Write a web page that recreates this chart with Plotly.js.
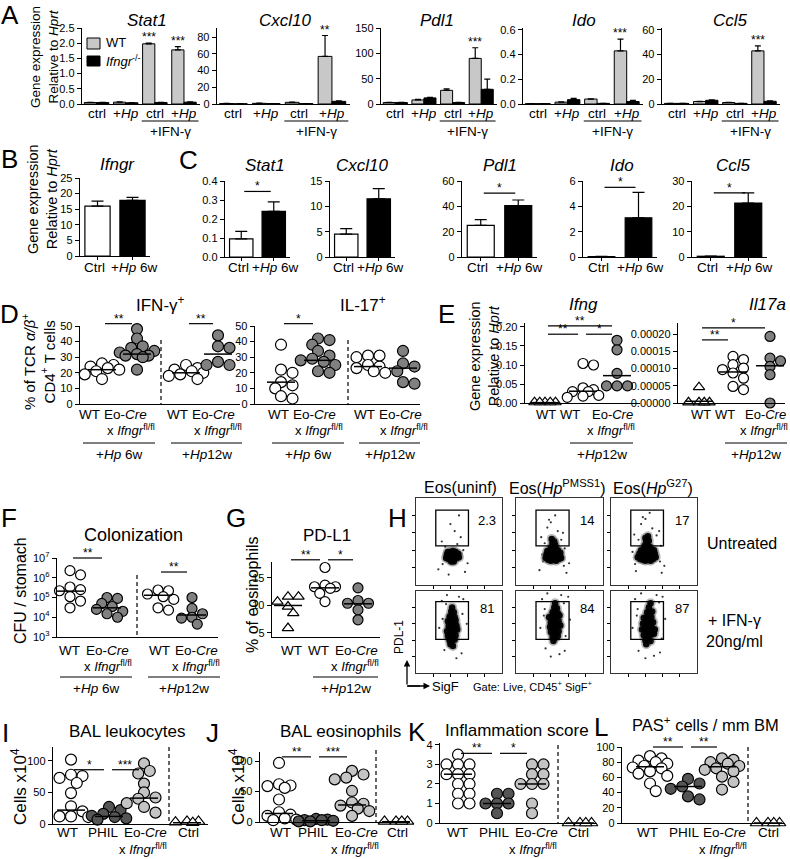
<!DOCTYPE html>
<html><head><meta charset="utf-8">
<script src="https://cdn.plot.ly/plotly-3.0.1.min.js"></script>
<style>html,body{margin:0;padding:0;background:#fff}#chart{width:790px;height:859px}</style>
</head><body><div id="chart"></div>
<script>
// ================= DATA =================
// Panel A (in vitro eosinophils, WT vs Ifngr-/-)
const aGenes = ['Stat1', 'Cxcl10', 'Pdl1', 'Ido', 'Ccl5'];
const aCats = ['ctrl', '+<i>Hp</i>', 'ctrl', '+<i>Hp</i>'];
const aStat1WT = [0.05, 0.06, 1.98, 1.78], aStat1WTErr = [0.005, 0.01, 0.02, 0.11];
const aStat1KO = [0.05, 0.04, 0.05, 0.06], aStat1KOErr = [0.005, 0.005, 0.005, 0.01];
const aStat1Stars = ['', '', '***', '***'];
const aCxcl10WT = [0.6, 0.8, 2.0, 57], aCxcl10WTErr = [0.2, 0.2, 0.3, 25];
const aCxcl10KO = [0.3, 0.5, 0.5, 3.2], aCxcl10KOErr = [0.1, 0.1, 0.1, 0.5];
const aCxcl10Stars = ['', '', '', '**'];
const aPdl1WT = [3, 8, 27, 90], aPdl1WTErr = [0.5, 1, 3, 21];
const aPdl1KO = [3, 12, 3, 29], aPdl1KOErr = [0.5, 1, 0.5, 20];
const aPdl1Stars = ['', '', '', '***'];
const aIdoWT = [0.003, 0.015, 0.04, 0.43], aIdoWTErr = [0.001, 0.002, 0.002, 0.095];
const aIdoKO = [0.003, 0.035, 0.005, 0.02], aIdoKOErr = [0.001, 0.01, 0.001, 0.01];
const aIdoStars = ['', '', '', '***'];
const aCcl5WT = [0.5, 2, 1.2, 43], aCcl5WTErr = [0.1, 0.2, 0.2, 4];
const aCcl5KO = [0.5, 3, 0.5, 2.2], aCcl5KOErr = [0.1, 0.3, 0.1, 0.3];
const aCcl5Stars = ['', '', '', '***'];

// Panel B / C (Ctrl vs +Hp 6w)
const bcCats = ['Ctrl', '+<i>Hp</i> 6w'];
const bIfngr = [16, 17.8], bIfngrErr = [1.6, 1.0];
const cGenes = ['Stat1', 'Cxcl10', 'Pdl1', 'Ido', 'Ccl5'];
const cStat1 = [0.095, 0.24], cStat1Err = [0.04, 0.05];
const cCxcl10 = [4.5, 11.5], cCxcl10Err = [1.1, 2.0];
const cPdl1 = [25, 40.5], cPdl1Err = [4.5, 4.5];
const cIdo = [0.03, 3.1], cIdoErr = [0.02, 2.0];
const cCcl5 = [0.3, 21.3], cCcl5Err = [0.1, 4.0];
const cSigY = [0.345, null, 50.5, 5.5, 25.3];

// Panel D (% of TCRab+ CD4+ T cells)
const dIfnWT6w = [26, 25, 24, 23, 22, 21, 19, 16];
const dIfnEo6w = [48, 42, 37, 36, 34, 33, 32, 31, 31, 30, 22];
const dIfnWT12w = [25, 23, 22, 21, 20, 19, 18, 16];
const dIfnEo12w = [44, 37, 36, 27, 25, 25];
const dIfnMeans = [22, 32, 20, 32];
const dIfnSig = [[0, 1, 51.5, '**'], [2, 3, 51.5, '**']];
const dIl17WT6w = [38, 22, 20, 14, 12, 10, 5, 3.5];
const dIl17Eo6w = [42, 41, 38, 34, 31, 29, 28, 27, 25, 21, 20];
const dIl17WT12w = [31, 31, 30, 25, 24, 23, 21, 20];
const dIl17Eo12w = [34, 26, 24, 21, 14, 13];
const dIl17Means = [14, 28, 24, 23];
const dIl17Sig = [[0, 1, 51.5, '*']];

// Panel E (gene expression relative to Hprt)
const eIfngWT = [0.002, 0.002, 0.002, 0.002, 0.002];
const eIfngWT12w = [0.104, 0.100, 0.040, 0.035, 0.030, 0.030, 0.020, 0.018, 0.015];
const eIfngEo12w = [0.165, 0.140, 0.078, 0.045, 0.045, 0.045];
const eIfngMeans = [0.001, 0.031, 0.072];
const eIfngSig = [[0, 1, 0.181, '**'], [1, 2, 0.181, '*'], [0, 2, 0.203, '**']];
const eIl17aWT = [0.000046, 0.000002, 0.000002, 0.000002, 0.000002];
const eIl17aWT12w = [0.000135, 0.000126, 0.000111, 0.000101, 0.000097, 0.000087, 0.000072, 0.000048, 0.000039];
const eIl17aEo12w = [0.000193, 0.000130, 0.000122, 0.000106, 0.000082, 0.0];
const eIl17aMeans = [0.000005, 0.000090, 0.000108];
const eIl17aSig = [[0, 1, 0.000183, '**'], [0, 2, 0.000218, '*']];

// Panel F (CFU / stomach)
const fWT6w = [2.3e6, 1.4e6, 3.4e5, 2.5e5, 2.2e5, 1.1e5, 6.6e4, 3e4];
const fEo6w = [1e5, 9e4, 5e4, 3.5e4, 2.5e4, 2e4, 1.5e4, 1e4];
const fWT12w = [2.4e5, 2.2e5, 1.5e5, 1.1e5, 8e4, 3e4, 2.3e4];
const fEo12w = [1e5, 2.8e4, 1.5e4, 1e4, 9e3, 4.5e3];
const fMedians = [2.1e5, 3e4, 1.3e5, 1.3e4];
const fSig = [[0, 1, 1e7, '**'], [2, 3, 1.95e6, '**']];

// Panel G (PD-L1, % of eosinophils)
const gWT = [11.6, 11.6, 10.7, 9.8, 8.6, 5.9];
const gWT12w = [16.9, 13.7, 13.4, 13.4, 13.1, 12.2, 10.7];
const gEo12w = [13.2, 10.9, 10.4, 10.4, 9.2, 7.4];
const gMeans = [10, 13.2, 10.3];
const gSig = [[0, 1, 18.3, '**'], [1, 2, 18.3, '*']];

// Panel H (flow cytometry, PDL-1 vs SigF)
const hCols = ['Eos(uninf)', 'Eos(<i>Hp</i><sup>PMSS1</sup>)', 'Eos(<i>Hp</i><sup>G27</sup>)'];
const hRows = ['Untreated', '+ IFN-γ<br>20ng/ml'];
const hPct = ['2.3', '14', '17', '81', '84', '87'];
const hGateUntreated = [23, 61, 45, 86];
const hGateIfng = [23, 61, 41, 87];
const hUntUninfX = [35,38,41,44,47,50,36,39,42,45,48,37,40,43,46,49,41,44];
const hUntUninfY = [31,30,29,30,31,32,35,34,34,35,34,38,38,39,38,36,27,27];
const hUntUninfSX = [30,55,26,52,45,60,34,57,48,40,38,50,31,53];
const hUntUninfSY = [50,40,18,55,62,25,44,15,47,70,12,80,24,36];
const hUntPmssX = [34,37,40,43,46,49,52,35,38,41,44,47,50,36,39,42,45,48,51,40,43,46,42,44,41,45];
const hUntPmssY = [31,29,28,29,28,30,31,35,34,33,34,35,34,39,38,39,38,40,37,43,44,42,48,50,53,46];
const hUntPmssSX = [29,56,27,54,36,61,33,58,48,40,52,45,38,30,55,31];
const hUntPmssSY = [55,42,17,60,66,25,48,14,62,72,52,80,75,35,22,27];
const hUntG27X = [31,34,37,40,43,46,49,52,33,36,39,42,45,48,51,35,38,41,44,47,50,39,42,45,41,44,43,40];
const hUntG27Y = [32,30,29,28,29,28,30,32,36,35,34,35,34,35,36,40,41,40,39,41,40,45,46,44,50,51,56,54];
const hUntG27SX = [27,58,29,56,35,62,32,59,48,40,53,45,37,25,57,28];
const hUntG27SY = [58,45,16,62,70,22,52,14,65,76,57,83,78,38,27,24];
const hIfnUninfX = [39,42,45,37,40,43,46,36,39,42,45,48,38,41,44,47,37,40,43,46,39,42,45,41,44,42,40,43];
const hIfnUninfY = [40,39,41,45,46,44,46,51,52,50,52,53,57,58,56,58,63,64,62,64,69,70,68,75,74,80,35,33];
const hIfnUninfSX = [30,55,33,53,27,59,36,50,47,35,54,31];
const hIfnUninfSY = [88,90,28,24,55,60,95,93,18,84,72,66];
const hIfnPmssX = [42,45,48,40,43,46,49,39,42,45,48,51,40,43,46,49,38,41,44,47,50,42,45,48,44,47,45,43];
const hIfnPmssY = [44,43,45,50,51,49,51,56,57,55,57,58,62,63,61,63,68,69,67,69,70,74,75,73,80,79,85,39];
const hIfnPmssSX = [30,60,34,56,28,62,36,52,40,50,33,57,55,32];
const hIfnPmssSY = [90,93,30,27,55,65,97,95,20,23,78,45,85,70];
const hIfnG27X = [40,43,46,38,41,44,47,50,36,39,42,45,48,51,37,40,43,46,49,38,41,44,47,42,45,48,44,41,46];
const hIfnG27Y = [40,41,39,46,47,45,47,48,53,54,52,54,55,53,60,61,59,61,62,67,68,66,68,74,73,75,80,35,85];
const hIfnG27SX = [28,60,32,57,25,63,35,53,40,50,31,59,56,30];
const hIfnG27SY = [90,93,27,25,55,66,97,95,18,21,78,42,86,70];

// Panels I-L (WT, PHIL, Eo-Cre x Ifngr fl/fl, Ctrl)
const iWT = [102, 78, 76, 73, 65, 49, 28, 20, 12, 12, 11];
const iPHIL = [27, 22, 16, 13, 11, 9, 7];
const iEo = [96, 84, 80, 64, 50, 42, 40, 33, 27, 18];
const iCtrl = [4, 4, 3, 2];
const iMedians = [22, 12, 41, 2];
const iSig = [[0, 1, 86, '*'], [1, 2, 86, '***']];
const jWT = [97, 62, 60, 59, 56, 37, 16, 12, 10, 6, 4, 3];
const jPHIL = [5, 4, 3, 3, 2, 1, 1];
const jEo = [84, 78, 73, 70, 51, 32, 30, 27, 22, 18, 10];
const jCtrl = [1, 1, 1, 1];
const jMedians = [14, 2, 28, 0.5];
const jSig = [[0, 1, 107, '**'], [1, 2, 107, '***']];
const kWT = [3.5, 3, 3, 3, 2.5, 2.5, 2.5, 2, 2, 1.5, 1.5, 1, 1];
const kPHIL = [1.5, 1.5, 1, 1, 1, 0.5];
const kEo = [3, 3, 2.5, 2.5, 2, 2, 2, 1, 0.5];
const kCtrl = [0, 0, 0, 0];
const kMedians = [2.5, 1, 2, 0];
const kSig = [[0, 1, 3.57, '**'], [1, 2, 3.57, '*']];
const lWT = [88, 85, 82, 80, 78, 75, 73, 72, 68, 65, 62, 52, 42];
const lPHIL = [58, 52, 48, 45, 35, 31];
const lEo = [85, 83, 80, 78, 75, 72, 70, 68, 61, 54, 44];
const lCtrl = [0, 0, 0, 0];
const lMedians = [74, 48, 74, 0];
const lSig = [[0, 1, 100, '**'], [1, 2, 100, '**']];

// ================= HELPERS =================
const W = 790, H = 859;
const FONT = '"Liberation Sans", Arial, Helvetica, sans-serif';
const CAT = 13.5;
const traces = [], shapes = [], annotations = [];
const layout = {
  width: W, height: H, margin: {l: 0, r: 0, t: 0, b: 0},
  paper_bgcolor: '#fff', plot_bgcolor: 'rgba(0,0,0,0)', showlegend: false,
  barmode: 'group', bargap: 0.16, bargroupgap: 0,
  font: {family: FONT, color: '#000', size: 12}
};
let nAx = 0;
function panel(box, yspec, xspec) {
  nAx++;
  const n = nAx, xk = n === 1 ? 'xaxis' : 'xaxis' + n, yk = n === 1 ? 'yaxis' : 'yaxis' + n;
  const xid = 'x' + (n === 1 ? '' : n), yid = 'y' + (n === 1 ? '' : n);
  const [L, R, T, B] = box;
  const base = {showgrid: false, zeroline: false, showline: true, linecolor: '#000', linewidth: 1.3,
    ticks: 'outside', ticklen: 4, tickwidth: 1, tickcolor: '#000',
    tickfont: {size: 11, family: FONT, color: '#000'}, fixedrange: true};
  layout[xk] = Object.assign({}, base, {domain: [L / W, R / W], anchor: yid}, xspec);
  layout[yk] = Object.assign({}, base, {domain: [1 - B / H, 1 - T / H], anchor: xid}, yspec);
  const yr = layout[yk].range, ylog = layout[yk].type === 'log';
  const xr = layout[xk].range;
  return {
    xid, yid, L, R, T, B,
    mapY: v => { const t = ylog ? Math.log10(v) : v; return B - (t - yr[0]) / (yr[1] - yr[0]) * (B - T); },
    mapX: v => L + (v - xr[0]) / (xr[1] - xr[0]) * (R - L)
  };
}
function txt(s, x, y, o) {
  o = o || {};
  const f = Object.assign({family: FONT, size: 15, color: '#000'}, o.font || {});
  const a = Object.assign({text: s, x: x / W, y: 1 - y / H, xref: 'paper', yref: 'paper', showarrow: false,
    xanchor: 'center', yanchor: 'middle'}, o);
  a.font = f;
  annotations.push(a);
}
function line(x0, y0, x1, y1, o) {
  shapes.push(Object.assign({type: 'line', xref: 'paper', yref: 'paper', x0: x0 / W, y0: 1 - y0 / H,
    x1: x1 / W, y1: 1 - y1 / H, line: {color: '#000', width: 1.2}}, o || {}));
}
function rect(x0, y0, x1, y1, fill) {
  shapes.push({type: 'rect', xref: 'paper', yref: 'paper', x0: x0 / W, y0: 1 - y1 / H, x1: x1 / W, y1: 1 - y0 / H,
    fillcolor: fill, line: {color: '#000', width: 1}});
}
function star(label, x, y) { txt(label, x, y + 4, {yanchor: 'bottom', font: {size: 12}}); }
function errUp(arr, w) {
  return {type: 'data', symmetric: false, array: arr, arrayminus: arr.map(() => 0), color: '#000', thickness: 1.2, width: w};
}
function letter(s, x, y) { txt(s, x, y, {font: {size: 26}}); }
function ytitle(s, x, y, size) { txt(s, x, y, {textangle: -90, font: {size: size || 15}}); }
// simple beeswarm: horizontal offsets (px) so that markers overlap only partly
function swarm(vals, mapY, d) {
  const items = vals.map(v => ({v, py: mapY(v)})).sort((a, b) => a.py - b.py);
  const placed = [];
  const step = d * 0.5, thr = d * 0.72, maxK = 6;
  for (const it of items) {
    let best = 0, bestScore = -1;
    for (let k = 0; k <= maxK; k++) {
      const c = k === 0 ? 0 : (k % 2 === 1 ? 1 : -1) * Math.ceil(k / 2) * step;
      const md = placed.length ? Math.min(...placed.map(q => Math.hypot(q.dx - c, q.py - it.py))) : Infinity;
      if (md >= thr) { best = c; bestScore = md; break; }
      if (md > bestScore) { bestScore = md; best = c; }
    }
    placed.push({v: it.v, py: it.py, dx: best});
  }
  return placed;
}
function dotPanel(spec, groups, means, sigs) {
  const p = panel([spec.L, spec.R, spec.T, spec.B], Object.assign({}, spec.y),
    {range: [spec.L, spec.R], ticks: '', showticklabels: false});
  groups.forEach((g, i) => {
    const gx = spec.gx[i];
    const sw = swarm(g.vals, p.mapY, spec.d || 11.5);
    traces.push({type: 'scatter', mode: 'markers', x: sw.map(s => gx + s.dx), y: sw.map(s => s.v),
      xaxis: p.xid, yaxis: p.yid, cliponaxis: false, hoverinfo: 'skip',
      marker: {symbol: g.sym || 'circle', size: spec.ms || 11, color: g.fill, line: {color: '#000', width: 1.2}}});
  });
  means.forEach((m, i) => {
    const gx = spec.gx[i];
    traces.push({type: 'scatter', mode: 'lines', x: [gx - 14, gx + 14], y: [m, m], xaxis: p.xid, yaxis: p.yid,
      cliponaxis: false, hoverinfo: 'skip', line: {color: '#000', width: 1.5}});
  });
  (sigs || []).forEach(s => {
    const y = p.mapY(s[2]);
    const x0 = spec.gx[s[0]] + 3, x1 = spec.gx[s[1]] - 5;
    line(x0, y, x1, y);
    star(s[3], (x0 + x1) / 2, y);
  });
  if (spec.dash) line(spec.dash[0], spec.dash[1], spec.dash[0], spec.B, {line: {color: '#000', width: 1.2, dash: '4px,3px'}});
  return p;
}

// ================= PANEL A =================
const aData = [
  [aStat1WT, aStat1WTErr, aStat1KO, aStat1KOErr, aStat1Stars],
  [aCxcl10WT, aCxcl10WTErr, aCxcl10KO, aCxcl10KOErr, aCxcl10Stars],
  [aPdl1WT, aPdl1WTErr, aPdl1KO, aPdl1KOErr, aPdl1Stars],
  [aIdoWT, aIdoWTErr, aIdoKO, aIdoKOErr, aIdoStars],
  [aCcl5WT, aCcl5WTErr, aCcl5KO, aCcl5KOErr, aCcl5Stars]
];
const aSpec = [
  {box: [82, 200], y: {range: [0, 2.5], tickvals: [0, 0.5, 1, 1.5, 2, 2.5], tickformat: '.1f'}, tx: 147},
  {box: [217, 350], y: {range: [0, 91], tickvals: [0, 20, 40, 60, 80]}, tx: 285},
  {box: [381, 497], y: {range: [0, 150], tickvals: [0, 50, 100, 150]}, tx: 437},
  {box: [523, 643], y: {range: [0, 0.615], tickvals: [0, 0.2, 0.4, 0.6], tickformat: '.1f'}, tx: 584},
  {box: [662, 780], y: {range: [0, 61.5], tickvals: [0, 20, 40, 60]}, tx: 730}
];
aSpec.forEach((s, k) => {
  const [wt, wtE, ko, koE, stars] = aData[k];
  const p = panel([s.box[0], s.box[1], 28, 104], s.y,
    {range: [-0.5, 3.55], tickvals: [0, 1, 2, 3], ticks: '', showticklabels: false});
  traces.push({type: 'bar', x: [0, 1, 2, 3], y: wt, xaxis: p.xid, yaxis: p.yid, hoverinfo: 'skip',
    marker: {color: '#c8c8c8', line: {color: '#000', width: 1}}, error_y: errUp(wtE, 3)});
  traces.push({type: 'bar', x: [0, 1, 2, 3], y: ko, xaxis: p.xid, yaxis: p.yid, hoverinfo: 'skip',
    marker: {color: '#000', line: {color: '#000', width: 1}}, error_y: errUp(koE, 3)});
  txt('<i>' + aGenes[k] + '</i>', s.tx, 21, {font: {size: 17}});
  aCats.forEach((c, i) => txt(c, p.mapX(i), 113, {font: {size: CAT}}));
  stars.forEach((st, i) => { if (st) star(st, p.mapX(i - 0.21), p.mapY(wt[i] + wtE[i]) - 1); });
  const u0 = p.mapX(1.55), u1 = p.mapX(3.5);
  line(u0, 121, u1, 121);
  txt('+IFN-γ', (u0 + u1) / 2, 131, {font: {size: CAT}});
});
letter('A', 10, 15);
ytitle('Gene expression<br>Relative to <i>Hprt</i>', 44, 57, 13.5);
rect(87, 38, 100, 49, '#c8c8c8');
rect(87, 56, 100, 66, '#000');
txt('WT', 104, 43, {xanchor: 'left', font: {size: 13}});
txt('<i>Ifngr</i><sup>-/-</sup>', 104, 61, {xanchor: 'left', font: {size: 13}});

// ================= PANEL B & C =================
function bcPanel(box, T, B, yspec, vals, errs) {
  const p = panel([box[0], box[1], T, B], yspec,
    {range: [-0.5, 1.5], tickvals: [0, 1], ticklen: 3, showticklabels: false});
  traces.push({type: 'bar', x: [0, 1], y: vals, width: 0.72, xaxis: p.xid, yaxis: p.yid, hoverinfo: 'skip',
    marker: {color: ['#fff', '#000'], line: {color: '#000', width: 1.2}}, error_y: errUp(errs, 6)});
  txt(bcCats[0], p.mapX(0) - 3, 268, {font: {size: CAT}});
  txt(bcCats[1], p.mapX(1) + 1, 268, {font: {size: CAT}});
  return p;
}
bcPanel([80, 150], 178, 256, {range: [0, 25], tickvals: [0, 5, 10, 15, 20, 25]}, bIfngr, bIfngrErr);
txt('<i>Ifngr</i>', 117, 165, {font: {size: 17}});
letter('B', 9, 159);
ytitle('Gene expression<br>Relative to <i>Hprt</i>', 42, 199, 14.5);
letter('C', 188, 160);
const cSpec = [
  {box: [225, 290], y: {range: [0, 0.4], tickvals: [0, 0.1, 0.2, 0.3, 0.4], tickformat: '.1f'}, tx: 265},
  {box: [330, 395], y: {range: [0, 15], tickvals: [0, 5, 10, 15]}, tx: 362},
  {box: [462, 537], y: {range: [0, 60], tickvals: [0, 20, 40, 60]}, tx: 500},
  {box: [583, 657], y: {range: [0, 6], tickvals: [0, 2, 4, 6]}, tx: 622},
  {box: [692, 767], y: {range: [0, 30], tickvals: [0, 10, 20, 30]}, tx: 733}
];
const cData = [[cStat1, cStat1Err], [cCxcl10, cCxcl10Err], [cPdl1, cPdl1Err], [cIdo, cIdoErr], [cCcl5, cCcl5Err]];
cSpec.forEach((s, k) => {
  const p = bcPanel(s.box, 181, 257, s.y, cData[k][0], cData[k][1]);
  txt('<i>' + cGenes[k] + '</i>', s.tx, 166, {font: {size: 17}});
  if (cSigY[k] != null) {
    const y = p.mapY(cSigY[k]), x0 = p.mapX(0) + 3, x1 = p.mapX(1) - 3;
    line(x0, y, x1, y);
    star('*', (x0 + x1) / 2, y);
  }
});

// ================= PANEL D =================
const OPEN = '#ffffff', GREY = '#808080';
letter('D', 9, 314);
ytitle('% of TCR <i>α/β</i><sup>+</sup><br>CD4<sup>+</sup> T cells', 38, 362, 15);
txt('IFN-γ<sup>+</sup>', 160, 304, {font: {size: 17}});
txt('IL-17<sup>+</sup>', 363, 304, {font: {size: 17}});
dotPanel({L: 80, R: 240, T: 326, B: 404, y: {range: [0, 50], tickvals: [0, 10, 20, 30, 40, 50]},
  gx: [102, 137, 186, 218], dash: [161, 340]},
  [{vals: dIfnWT6w, fill: OPEN}, {vals: dIfnEo6w, fill: GREY}, {vals: dIfnWT12w, fill: OPEN}, {vals: dIfnEo12w, fill: GREY}],
  dIfnMeans, dIfnSig);
dotPanel({L: 255, R: 420, T: 326, B: 404, y: {range: [0, 50], tickvals: [0, 10, 20, 30, 40, 50]},
  gx: [281, 318, 368, 403], dash: [348, 340]},
  [{vals: dIl17WT6w, fill: OPEN}, {vals: dIl17Eo6w, fill: GREY}, {vals: dIl17WT12w, fill: OPEN}, {vals: dIl17Eo12w, fill: GREY}],
  dIl17Means, dIl17Sig);
const EOCRE = 'Eo-<i>Cre</i>', XIFN = 'x <i>Ifngr</i><sup>fl/fl</sup>';
function groupLabels(items, y1, y2, size) {
  items.forEach(it => {
    if (it.t) txt(it.t, it.x, y1, {font: {size: size || CAT}});
    if (it.t2) txt(it.t2, it.x2, y2, {font: {size: 13}});
  });
}
function bracket(x0, x1, y, label, ty) { line(x0, y, x1, y); txt(label, (x0 + x1) / 2, ty, {font: {size: CAT}}); }
groupLabels([{t: 'WT', x: 89}, {t: EOCRE, x: 125, t2: XIFN, x2: 131}, {t: 'WT', x: 177}, {t: EOCRE, x: 213, t2: XIFN, x2: 218},
  {t: 'WT', x: 278}, {t: EOCRE, x: 314, t2: XIFN, x2: 319}, {t: 'WT', x: 364}, {t: EOCRE, x: 400, t2: XIFN, x2: 404}], 414, 430);
bracket(83, 155, 443, '+<i>Hp</i> 6w', 454);
bracket(171, 242, 443, '+<i>Hp</i>12w', 454);
bracket(272, 344, 443, '+<i>Hp</i> 6w', 454);
bracket(359, 420, 443, '+<i>Hp</i>12w', 454);

// ================= PANEL E =================
letter('E', 446, 314);
ytitle('Gene expression<br>Relative to <i>Hprt</i>', 484, 356, 14.5);
txt('<i>Ifng</i>', 583, 304, {font: {size: 17}});
txt('<i>Il17a</i>', 767, 304, {font: {size: 17}});
dotPanel({L: 525, R: 640, T: 323, B: 403, d: 10.5, ms: 10,
  y: {range: [0, 0.2105], tickvals: [0, 0.05, 0.1, 0.15, 0.2], tickformat: '.2f'}, gx: [545, 583, 617]},
  [{vals: eIfngWT, fill: OPEN, sym: 'triangle-up'}, {vals: eIfngWT12w, fill: OPEN}, {vals: eIfngEo12w, fill: GREY}],
  eIfngMeans, eIfngSig);
dotPanel({L: 678, R: 785, T: 323, B: 403, d: 10.5, ms: 10,
  y: {range: [0, 0.000232], tickvals: [0, 0.00005, 0.0001, 0.00015, 0.0002], tickformat: '.5f'}, gx: [699, 733, 770]},
  [{vals: eIl17aWT, fill: OPEN, sym: 'triangle-up'}, {vals: eIl17aWT12w, fill: OPEN}, {vals: eIl17aEo12w, fill: GREY}],
  eIl17aMeans, eIl17aSig);
groupLabels([{t: 'WT', x: 546}, {t: 'WT', x: 570}, {t: EOCRE, x: 612, t2: XIFN, x2: 611},
  {t: 'WT', x: 701}, {t: 'WT', x: 725}, {t: EOCRE, x: 765, t2: XIFN, x2: 764}], 414, 430, 13);
bracket(570, 633, 443, '+<i>Hp</i>12w', 454);
bracket(725, 787, 443, '+<i>Hp</i>12w', 454);

// ================= PANEL F =================
letter('F', 9, 518);
txt('Colonization', 133, 535, {font: {size: 18}});
ytitle('CFU / stomach', 20, 591, 16);
dotPanel({L: 57, R: 218, T: 558, B: 637, d: 10.5, ms: 10,
  y: {type: 'log', range: [3, 7], tickvals: [1e3, 1e4, 1e5, 1e6, 1e7],
      ticktext: ['10<sup>3</sup>', '10<sup>4</sup>', '10<sup>5</sup>', '10<sup>6</sup>', '10<sup>7</sup>']},
  gx: [70, 107, 158, 192], dash: [137, 575]},
  [{vals: fWT6w, fill: OPEN}, {vals: fEo6w, fill: GREY}, {vals: fWT12w, fill: OPEN}, {vals: fEo12w, fill: GREY}],
  fMedians, fSig);
groupLabels([{t: 'WT', x: 69}, {t: EOCRE, x: 107, t2: XIFN, x2: 108}, {t: 'WT', x: 159}, {t: EOCRE, x: 196, t2: XIFN, x2: 196}], 650, 666);
bracket(60, 132, 677, '+<i>Hp</i> 6w', 688);
bracket(148, 220, 677, '+<i>Hp</i>12w', 688);

// ================= PANEL G =================
letter('G', 236, 518);
txt('PD-L1', 327, 535, {font: {size: 17}});
ytitle('% of eosinophils', 252, 594, 16);
dotPanel({L: 272, R: 380, T: 562, B: 637, d: 10.5, ms: 10,
  y: {range: [4.27, 17.9], tickvals: [5, 10, 15]}, gx: [288, 325, 358]},
  [{vals: gWT, fill: OPEN, sym: 'triangle-up'}, {vals: gWT12w, fill: OPEN}, {vals: gEo12w, fill: GREY}],
  gMeans, gSig);
groupLabels([{t: 'WT', x: 291}, {t: 'WT', x: 318}, {t: EOCRE, x: 356, t2: XIFN, x2: 355}], 650, 666);
bracket(313, 378, 677, '+<i>Hp</i>12w', 688);

// ================= PANEL H =================
letter('H', 397, 518);
const hColsPx = [[416, 502], [516, 603], [611, 697]];
const hRowsPx = [[498, 585], [591, 673]];
const hCore = [[hUntUninfX, hUntUninfY], [hUntPmssX, hUntPmssY], [hUntG27X, hUntG27Y],
               [hIfnUninfX, hIfnUninfY], [hIfnPmssX, hIfnPmssY], [hIfnG27X, hIfnG27Y]];
const hSparse = [[hUntUninfSX, hUntUninfSY], [hUntPmssSX, hUntPmssSY], [hUntG27SX, hUntG27SY],
                 [hIfnUninfSX, hIfnUninfSY], [hIfnPmssSX, hIfnPmssSY], [hIfnG27SX, hIfnG27SY]];
[0, 1].forEach(r => {
  [0, 1, 2].forEach(c => {
    const k = r * 3 + c;
    const ax = {range: [0, 100], mirror: true, linewidth: 1, linecolor: '#333', ticklen: 3, tickvals: [20, 40, 60, 80], showticklabels: false};
    const p = panel([hColsPx[c][0], hColsPx[c][1], hRowsPx[r][0], hRowsPx[r][1]], Object.assign({}, ax), Object.assign({}, ax));
    traces.push({type: 'scatter', mode: 'markers', x: hSparse[k][0], y: hSparse[k][1], xaxis: p.xid, yaxis: p.yid, hoverinfo: 'skip',
      marker: {size: 2.2, color: '#333'}});
    traces.push({type: 'scatter', mode: 'markers', x: hCore[k][0], y: hCore[k][1], xaxis: p.xid, yaxis: p.yid, hoverinfo: 'skip',
      marker: {size: 10, color: '#777', opacity: 0.5, line: {width: 0}}});
    traces.push({type: 'scatter', mode: 'markers', x: hCore[k][0], y: hCore[k][1], xaxis: p.xid, yaxis: p.yid, hoverinfo: 'skip',
      marker: {size: 6.5, color: '#000', opacity: 0.95, line: {width: 0}}});
    const g = r === 0 ? hGateUntreated : hGateIfng;
    shapes.push({type: 'rect', xref: p.xid, yref: p.yid, x0: g[0], x1: g[1], y0: g[2], y1: g[3], line: {color: '#000', width: 1.3}});
    annotations.push({xref: p.xid, yref: p.yid, x: 82, y: r === 0 ? 74 : 79, text: hPct[k], showarrow: false,
      font: {family: FONT, size: 13, color: '#000'}});
  });
});
txt(hCols[0], 460, 487, {font: {size: 16}});
txt(hCols[1], 557, 487, {font: {size: 16}});
txt(hCols[2], 653, 487, {font: {size: 16}});
txt(hRows[0], 705, 543, {xanchor: 'left', font: {size: 16}});
txt(hRows[1], 704, 631, {xanchor: 'left', font: {size: 16}});
txt('PDL-1', 399, 637, {textangle: -90, font: {size: 12}});
annotations.push({xref: 'paper', yref: 'paper', x: 407 / W, y: 1 - 660 / H, ax: 0, ay: 26, showarrow: true,
  arrowhead: 2, arrowsize: 1, arrowwidth: 1.3, arrowcolor: '#000', text: ''});
line(407, 686, 420, 686, {line: {color: '#000', width: 1.3}});
annotations.push({xref: 'paper', yref: 'paper', x: 430 / W, y: 1 - 686 / H, ax: -24, ay: 0, showarrow: true,
  arrowhead: 2, arrowsize: 1, arrowwidth: 1.3, arrowcolor: '#000', text: ''});
txt('SigF', 445, 686, {font: {size: 13}});
txt('Gate: Live, CD45<sup>+</sup> SigF<sup>+</sup>', 533, 686, {font: {size: 11}});

// ================= PANELS I-L =================
const DARK = '#555555', LIGHT = '#c4c4c4';
function ijklLabels(xs, eo2) {
  txt('WT', xs[0], 832, {font: {size: 13.5}});
  txt('PHIL', xs[1], 832, {font: {size: 13.5}});
  txt(EOCRE, xs[2], 832, {font: {size: 13.5}});
  txt(XIFN, eo2, 849, {font: {size: 13}});
  txt('Ctrl', xs[3], 832, {font: {size: 13.5}});
}
letter('I', 5, 733);
txt('BAL leukocytes', 127, 731, {font: {size: 17}});
ytitle('Cells x10<sup>4</sup>', 19, 787, 17);
dotPanel({L: 53, R: 208, T: 747, B: 824, y: {range: [0, 122], tickvals: [0, 50, 100]}, gx: [71, 109, 144, 187], dash: [169, 747]},
  [{vals: iWT, fill: OPEN}, {vals: iPHIL, fill: DARK}, {vals: iEo, fill: LIGHT}, {vals: iCtrl, fill: OPEN, sym: 'triangle-up'}],
  iMedians, iSig);
ijklLabels([67, 103, 145, 188], 143);

letter('J', 212, 733);
txt('BAL eosinophils', 340, 731, {font: {size: 17}});
ytitle('Cells x10<sup>4</sup>', 237, 787, 17);
dotPanel({L: 260, R: 410, T: 752, B: 822, y: {range: [0, 115], tickvals: [0, 50, 100]}, gx: [279, 316, 352, 396], dash: [376, 750]},
  [{vals: jWT, fill: OPEN}, {vals: jPHIL, fill: DARK}, {vals: jEo, fill: LIGHT}, {vals: jCtrl, fill: OPEN, sym: 'triangle-up'}],
  jMedians, jSig);
ijklLabels([280, 313, 356, 397], 355);

letter('K', 417, 732);
txt('Inflammation score', 517, 730, {font: {size: 17}});
dotPanel({L: 440, R: 597, T: 743, B: 823, y: {range: [0, 4.1], tickvals: [0, 1, 2, 3, 4]}, gx: [458, 497, 532, 580], dash: [558, 745]},
  [{vals: kWT, fill: OPEN}, {vals: kPHIL, fill: DARK}, {vals: kEo, fill: LIGHT}, {vals: kCtrl, fill: OPEN, sym: 'triangle-up'}],
  kMedians, kSig);
ijklLabels([457, 494, 536, 578], 533);

letter('L', 601, 727);
txt('PAS<sup>+</sup> cells / mm BM', 705, 724, {font: {size: 16.5}});
dotPanel({L: 622, R: 785, T: 747, B: 823, y: {range: [0, 100], tickvals: [0, 20, 40, 60, 80, 100]}, gx: [650, 688, 722, 768], dash: [748, 747]},
  [{vals: lWT, fill: OPEN}, {vals: lPHIL, fill: DARK}, {vals: lEo, fill: LIGHT}, {vals: lCtrl, fill: OPEN, sym: 'triangle-up'}],
  lMedians, lSig);
ijklLabels([647, 684, 724, 768], 723);

layout.shapes = shapes;
layout.annotations = annotations;
Plotly.newPlot('chart', traces, layout, {staticPlot: true, displayModeBar: false});
</script>
</body></html>
